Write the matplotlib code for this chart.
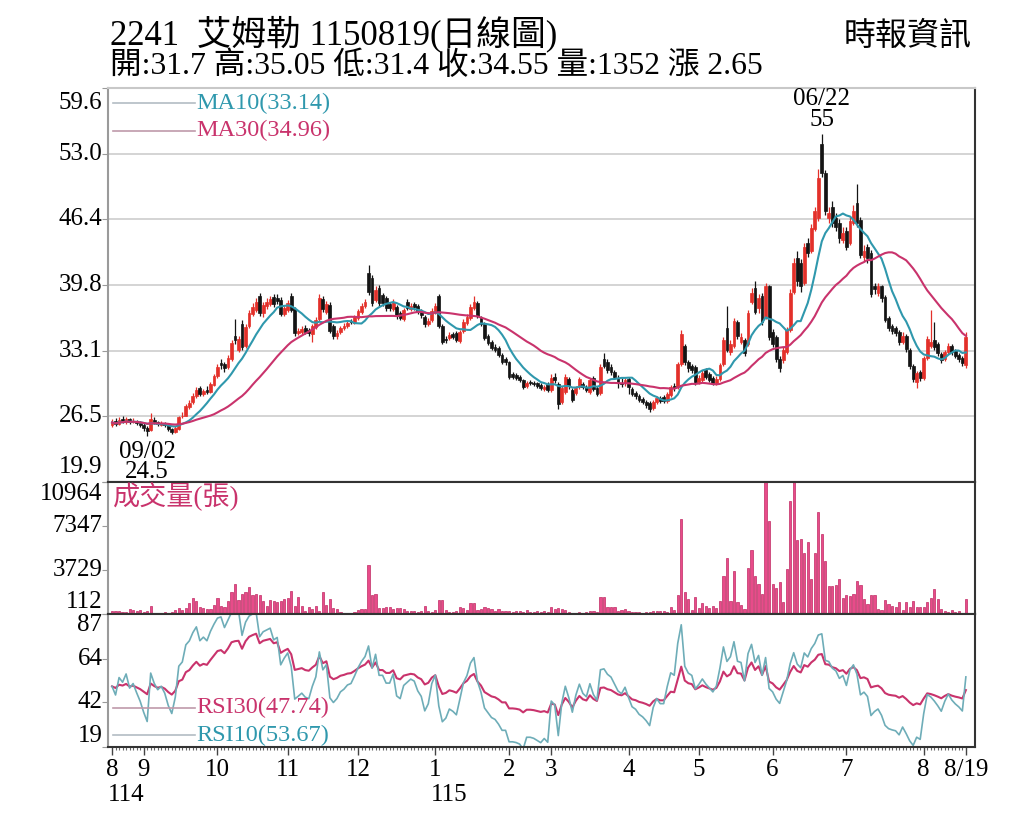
import numpy as np
import pandas as pd
import matplotlib
matplotlib.use("Agg")
import matplotlib.pyplot as plt

# daily K line of 2241, one row of numbers per month (2025/08 .. 2026/08)
opens = [
    25.6, 26.0, 25.7, 26.2, 25.9, 26.2, 25.9, 26.0, 25.8,
    25.6, 25.3, 25.1, 26.1, 25.9, 25.6, 25.8, 25.6, 25.2, 24.9, 25.2, 26.5, 26.6, 27.5, 28.0, 28.6, 29.4, 28.8, 29.2, 29.0, 29.7,
    30.6, 31.9, 31.8, 31.5, 32.3, 34.6, 33.2, 35.8, 33.6, 35.6, 36.8, 37.2, 38.6, 36.9, 37.6, 37.8, 38.5, 38.4, 38.2, 36.8,
    37.2, 38.6, 37.3, 34.9, 35.0, 35.4, 35.2, 34.8, 35.5, 36.3, 38.3, 37.0, 37.7, 35.6, 34.6, 35.0, 35.4, 35.6, 36.1, 35.9,
    36.4, 37.0, 37.6, 41.0, 40.5, 38.2, 39.4, 38.7, 38.4, 37.8, 37.3, 37.5, 36.9, 36.3, 38.0, 37.3, 37.8, 37.6, 37.1, 36.5, 35.8, 36.2,
    37.0, 38.6, 35.6, 34.3, 34.4, 34.8, 34.9, 34.1, 35.1, 35.9, 36.4, 37.4, 37.9, 36.4, 35.8, 34.6, 34.0, 33.5, 33.4, 32.7, 32.3,
    32.0, 30.8, 30.7, 30.5, 30.2, 29.6, 30.0, 29.9, 29.9, 29.7, 29.3, 29.8,
    29.2, 30.5, 29.8, 28.0, 29.0, 30.3, 29.2, 28.9, 29.5, 29.8, 29.5, 29.0, 30.4, 29.4, 28.9, 32.3, 32.0, 31.5, 31.0, 30.4, 29.9, 29.9,
    30.3, 29.3, 28.9, 28.6, 28.3, 28.0, 27.9, 27.4, 28.0, 28.4, 28.5, 28.1, 28.7, 29.6, 29.5, 31.8, 33.6, 32.0, 31.6, 31.5,
    30.0, 30.2, 31.2, 30.8, 30.4, 29.9, 30.3, 31.8, 35.4, 33.0, 33.6, 36.0, 34.0, 34.2, 33.8, 38.0, 39.4, 37.4, 38.6, 36.5, 39.6,
    35.0, 34.5, 32.3, 32.2, 33.0, 35.2, 39.0, 42.5, 42.0, 40.0, 44.0, 43.2, 45.4, 46.5, 54.0, 51.0, 46.5, 47.6, 46.5, 46.0, 44.3,
    45.2, 44.0, 46.0, 48.0, 46.3, 42.6, 43.6, 43.0, 39.6, 38.9, 39.6, 38.5, 36.4, 35.6, 35.4, 35.0, 34.0, 34.6, 33.2, 31.6, 30.0, 31.0,
    30.4, 32.4, 33.6, 34.2, 33.8, 32.8, 32.3, 33.0, 33.6, 33.1, 32.7, 32.4, 31.7,
]
highs = [
    26.2, 26.3, 26.4, 26.5, 26.4, 26.3, 26.3, 26.1, 26.0,
    25.8, 25.5, 26.9, 26.4, 26.0, 26.0, 25.9, 25.7, 25.3, 25.5, 26.6, 27.0, 27.8, 28.2, 28.9, 29.5, 29.6, 29.3, 29.6, 30.0, 30.8,
    31.8, 32.3, 32.0, 32.7, 34.2, 36.3, 34.6, 36.2, 35.8, 37.2, 37.9, 38.4, 38.9, 38.0, 38.4, 38.6, 38.8, 38.8, 38.5, 37.6,
    38.2, 38.9, 37.5, 35.4, 35.6, 35.7, 35.4, 35.8, 36.5, 38.8, 38.6, 38.1, 38.0, 35.8, 35.2, 35.6, 35.9, 36.1, 36.3, 36.7,
    37.3, 37.9, 38.3, 41.8, 40.8, 39.6, 39.7, 38.9, 38.6, 38.0, 38.3, 37.7, 37.1, 37.4, 38.3, 37.9, 38.0, 37.8, 37.3, 36.7, 36.4, 37.4,
    37.9, 38.8, 35.8, 34.6, 35.0, 35.0, 35.1, 35.2, 36.3, 36.8, 37.8, 38.6, 38.1, 36.6, 36.0, 34.8, 34.2, 33.8, 33.6, 32.9, 32.5,
    32.1, 31.0, 30.9, 30.7, 30.3, 30.1, 30.2, 30.1, 30.0, 29.9, 29.7, 30.0,
    30.8, 30.9, 30.0, 29.6, 30.8, 30.5, 29.4, 29.6, 30.5, 30.0, 29.7, 30.4, 30.6, 29.6, 31.8, 32.9, 32.3, 31.8, 31.2, 30.7, 30.4, 30.4,
    30.5, 29.5, 29.1, 28.8, 28.5, 28.2, 28.1, 28.2, 28.6, 28.6, 28.7, 29.0, 29.7, 29.9, 32.0, 35.2, 33.8, 32.2, 31.8, 31.7,
    30.7, 31.2, 31.4, 31.0, 30.6, 30.6, 31.9, 34.5, 37.6, 34.2, 36.4, 36.2, 34.9, 34.4, 37.2, 39.4, 40.2, 38.8, 38.9, 40.0, 39.8,
    35.3, 34.7, 32.6, 33.5, 35.5, 39.3, 42.5, 43.2, 42.4, 44.0, 44.5, 45.9, 47.6, 51.4, 55.0, 51.3, 47.6, 48.2, 47.0, 46.4, 45.6,
    45.6, 46.6, 47.8, 49.9, 46.6, 43.8, 43.9, 43.3, 40.0, 40.0, 39.8, 38.7, 36.6, 35.8, 35.6, 35.2, 35.0, 34.8, 33.4, 31.8, 31.1, 31.2,
    32.6, 34.6, 37.2, 36.0, 34.0, 33.0, 33.2, 33.9, 33.8, 33.3, 32.9, 32.6, 35.05,
]
lows = [
    25.4, 25.5, 25.6, 25.8, 25.7, 25.7, 25.8, 25.6, 25.4,
    25.0, 24.5, 25.0, 25.7, 25.5, 25.5, 25.4, 25.0, 24.7, 24.8, 25.1, 26.3, 26.5, 27.3, 27.8, 28.4, 28.6, 28.6, 28.8, 28.9, 29.6,
    30.4, 31.3, 31.0, 31.3, 32.1, 33.8, 33.0, 33.2, 33.4, 35.4, 36.6, 37.0, 36.6, 36.5, 37.3, 37.6, 37.5, 37.8, 36.6, 36.6,
    37.0, 37.0, 34.6, 34.7, 34.8, 34.8, 34.6, 34.0, 35.3, 36.1, 37.0, 36.8, 34.9, 34.3, 34.3, 34.8, 35.2, 35.4, 35.8, 35.8,
    36.2, 36.8, 37.4, 38.7, 37.6, 38.0, 37.6, 37.6, 37.1, 37.1, 37.1, 36.3, 36.2, 36.1, 37.2, 37.1, 37.2, 36.8, 36.4, 35.5, 35.6, 36.0,
    36.8, 35.4, 33.8, 33.9, 34.2, 34.3, 34.0, 33.9, 34.9, 35.7, 36.2, 37.2, 36.4, 35.6, 34.2, 33.7, 33.2, 33.0, 32.5, 31.8, 31.7,
    30.3, 30.3, 30.2, 30.0, 29.3, 29.4, 29.7, 29.6, 29.4, 29.2, 29.1, 29.0,
    29.0, 29.9, 27.3, 27.8, 28.8, 29.3, 28.0, 28.7, 29.3, 29.3, 29.0, 28.8, 29.1, 28.6, 28.7, 31.4, 30.9, 30.7, 30.3, 29.4, 29.5, 29.6,
    28.8, 28.6, 28.3, 28.0, 27.8, 27.4, 27.0, 27.2, 27.8, 27.9, 27.9, 27.9, 28.5, 29.1, 29.3, 31.6, 31.7, 31.0, 30.9, 29.7,
    29.8, 30.0, 30.3, 30.0, 29.7, 29.7, 30.1, 31.6, 33.0, 32.7, 33.4, 34.3, 33.8, 32.6, 33.6, 37.8, 36.8, 36.9, 35.7, 36.3, 34.2,
    33.5, 32.0, 31.0, 31.9, 32.8, 35.0, 38.8, 39.6, 39.0, 39.8, 42.6, 43.0, 45.2, 46.2, 50.6, 46.8, 46.0, 45.6, 45.2, 44.0, 44.0,
    43.3, 43.8, 45.8, 45.6, 42.5, 42.2, 42.0, 38.5, 38.8, 38.6, 38.0, 36.0, 35.1, 34.8, 34.6, 33.7, 33.8, 33.0, 31.3, 30.0, 29.4, 30.1,
    30.2, 32.2, 33.4, 33.2, 32.6, 31.9, 32.1, 32.8, 32.7, 32.4, 32.0, 31.6, 31.4,
]
closes = [
    25.9, 25.7, 26.1, 26.0, 26.2, 25.9, 26.0, 25.8, 25.6,
    25.3, 25.0, 26.2, 25.9, 25.7, 25.8, 25.6, 25.2, 24.9, 25.3, 26.4, 26.6, 27.6, 27.9, 28.6, 29.2, 28.8, 29.1, 29.0, 29.8, 30.6,
    31.5, 31.7, 31.4, 32.4, 33.9, 34.2, 34.3, 33.5, 35.5, 36.9, 37.5, 38.0, 36.9, 37.7, 38.0, 38.3, 37.8, 38.1, 36.8, 37.4,
    37.9, 37.2, 34.9, 35.1, 35.3, 35.0, 34.9, 35.6, 36.2, 38.4, 37.3, 37.8, 35.1, 34.6, 34.9, 35.4, 35.6, 35.9, 36.0, 36.5,
    37.1, 37.6, 38.0, 39.0, 37.9, 39.2, 37.9, 37.9, 37.4, 37.4, 38.0, 36.6, 36.4, 37.2, 37.4, 37.6, 37.5, 37.0, 36.7, 35.8, 36.1, 37.1,
    37.6, 35.6, 34.0, 34.2, 34.7, 34.5, 34.2, 35.0, 36.0, 36.5, 37.5, 38.0, 36.6, 35.8, 34.4, 33.9, 33.4, 33.2, 32.7, 32.0, 32.0,
    30.5, 30.5, 30.4, 30.2, 29.5, 29.9, 29.9, 29.8, 29.6, 29.4, 29.5, 29.2,
    30.4, 30.2, 27.8, 29.4, 30.5, 29.6, 28.2, 29.4, 30.3, 29.5, 29.2, 30.2, 29.3, 28.8, 31.5, 31.6, 31.2, 31.0, 30.5, 30.0, 29.8, 30.2,
    29.5, 28.8, 28.6, 28.2, 28.0, 27.7, 27.3, 28.0, 28.4, 28.1, 28.1, 28.8, 29.5, 29.4, 31.8, 34.8, 32.0, 31.4, 31.2, 30.0,
    30.4, 30.9, 30.5, 30.2, 29.9, 30.3, 31.7, 34.2, 33.2, 33.8, 36.1, 34.6, 34.5, 32.9, 36.9, 38.9, 37.0, 38.4, 36.0, 39.6, 34.5,
    33.8, 32.3, 31.4, 33.2, 35.2, 38.9, 42.0, 40.2, 39.6, 43.6, 43.0, 45.5, 47.2, 50.5, 51.0, 47.2, 47.0, 46.0, 45.6, 44.5, 45.0,
    43.6, 46.2, 47.2, 46.0, 42.8, 43.2, 42.5, 38.8, 39.3, 39.6, 38.4, 36.2, 35.4, 35.1, 34.9, 34.0, 34.6, 33.3, 31.6, 30.3, 30.9, 30.4,
    32.4, 34.3, 34.0, 33.5, 32.9, 32.2, 33.0, 33.6, 33.0, 32.6, 32.3, 31.9, 34.55,
]
volumes = [
    330, 330, 330, 280, 250, 530, 450, 330, 450,
    300, 380, 800, 180, 150, 200, 250, 230, 280, 420, 600, 450, 620, 1000, 1450, 1200, 650, 600, 560, 520, 880,
    1450, 810, 720, 1220, 1920, 2610, 1280, 1780, 1920, 2330, 1640, 1720, 1640, 1220, 810, 1280, 1170, 1080, 1220, 1360,
    1450, 2000, 810, 1500, 810, 390, 670, 530, 810, 390, 1920, 890, 1360, 610, 530, 250, 200, 220, 180, 250,
    450, 530, 530, 4140, 1640, 1720, 610, 610, 670, 720, 530, 610, 610, 530, 390, 330, 330, 250, 330, 810, 330, 250,
    450, 1280, 1280, 450, 250, 250, 330, 720, 610, 450, 1000, 1000, 450, 530, 670, 610, 530, 390, 530, 330, 330,
    390, 250, 390, 390, 250, 450, 250, 250, 330, 250, 330, 250,
    670, 530, 610, 530, 450, 250, 200, 180, 250, 200, 250, 390, 330, 250, 1500, 1500, 670, 720, 720, 330, 450, 530,
    330, 250, 250, 250, 200, 250, 250, 330, 330, 330, 330, 250, 670, 450, 1640, 7900, 1920, 1360, 450, 1500,
    610, 1000, 810, 610, 810, 610, 1220, 3230, 4700, 1220, 3670, 1080, 890, 530, 3860, 5400, 3230, 2610, 1720, 10964, 7760,
    2610, 2280, 2750, 1080, 3780, 9420, 10950, 6230, 6280, 5120, 6000, 3030, 5120, 8500, 6730, 4500, 2390, 2390, 2480, 3030, 1450,
    1640, 1560, 1780, 2840, 2480, 1360, 950, 1640, 1640, 530, 450, 1280, 950, 810, 720, 1080, 450, 1080, 720, 1220, 670, 670,
    670, 1080, 1450, 2200, 1360, 530, 330, 250, 450, 250, 330, 200, 1352,
]

month_days = [9, 21, 20, 20, 22, 21, 12, 22, 20, 21, 21, 22, 13]
month_labels = ["8", "9", "10", "11", "12", "1", "2", "3", "4", "5", "6", "7", "8"]
last_label = "8/19"
year_marks = {0: "114", 5: "115"}   # month slot -> ROC year

price_ticks = [19.9, 26.5, 33.1, 39.8, 46.4, 53.0, 59.6]
vol_ticks = [112, 3729, 7347, 10964]
rsi_ticks = [19, 42, 64, 87]

title = "2241  艾姆勒 1150819(日線圖)"
subtitle = "開:31.7 高:35.05 低:31.4 收:34.55 量:1352 漲 2.65"
source = "時報資訊"
high_tag, low_tag = "06/22", "09/02"
ma_text = ["MA10(33.14)", "MA30(34.96)"]
rsi_text = ["RSI30(47.74)", "RSI10(53.67)"]
vol_text = "成交量(張)"

FAM = ["Liberation Serif", "Noto Sans CJK TC", "DejaVu Sans"]
RED, BLACK = "#e3302a", "#141414"
TEAL, CRIMSON = "#2f98ad", "#c9336c"

o = np.array(opens); h = np.array(highs); l = np.array(lows); c = np.array(closes)
v = np.array(volumes)
assert len(o) == len(h) == len(l) == len(c) == len(v) == sum(month_days)
n = len(c)
x = np.arange(n)

cs = pd.Series(c)
ma10 = cs.rolling(10, min_periods=1).mean()
ma30 = cs.rolling(30, min_periods=1).mean()


def rsi(prices, span):
    # Wilder smoothing, averages seeded neutral from the first moves
    d = np.diff(prices)
    up = dn = np.mean(np.abs(d[:span])) / 2
    out = [50.0]
    for step in d:
        up = (up * (span - 1) + max(step, 0)) / span
        dn = (dn * (span - 1) + max(-step, 0)) / span
        out.append(100 * up / (up + dn))
    return np.array(out)


rsi10 = rsi(c, 10)
rsi30 = rsi(c, 30)

plt.rcParams["font.family"] = FAM
fig = plt.figure(figsize=(10.24, 8.19), dpi=100)
FH = 819.0


def box(top, bottom):
    return [108 / 1024, (FH - bottom) / FH, 867 / 1024, (bottom - top) / FH]


ax_p = fig.add_axes(box(88, 482))
ax_v = fig.add_axes(box(482, 614), sharex=ax_p)
ax_r = fig.add_axes(box(614, 747), sharex=ax_p)

for ax in (ax_p, ax_v, ax_r):
    ax.spines["left"].set_color("#9a9a9a")
    ax.spines["left"].set_linewidth(1.5)
    for side in ("right", "bottom", "top"):
        ax.spines[side].set_color("#333333")
        ax.spines[side].set_linewidth(1.5)
    ax.tick_params(axis="y", length=4, color="#9a9a9a", labelleft=False)
ax_p.spines["top"].set_color("#c8c8c8")


def side_labels(ax, ticks, fmt, shift_px):
    ax.set_yticks(ticks)
    for k, t in enumerate(ticks):
        dy = 0
        if k == 0:
            dy = shift_px
        elif k == len(ticks) - 1:
            dy = -shift_px
        ax.annotate(fmt(t), xy=(0, t), xycoords=("axes fraction", "data"),
                    xytext=(-4, dy * 0.72), textcoords="offset points",
                    ha="right", va="center", fontsize=18, family=FAM)


# price panel
col = np.where(c >= o, RED, BLACK)
ax_p.vlines(x, l, h, colors=col, lw=0.9, zorder=3)
ax_p.bar(x, np.abs(c - o), bottom=np.minimum(o, c), width=0.8, color=col,
         edgecolor=col, linewidth=0.5, zorder=3)
ax_p.plot(x, ma10, color=TEAL, lw=1.5, zorder=4)
ax_p.plot(x, ma30, color=CRIMSON, lw=1.5, zorder=4)
ax_p.set_ylim(price_ticks[0], price_ticks[-1])
side_labels(ax_p, price_ticks, lambda t: f"{t:.1f}", 15)
ax_p.grid(axis="y", color="#cdcdcd", lw=1.2, zorder=0)
ax_p.tick_params(axis="x", bottom=False, labelbottom=False)

for k, (txt, colr) in enumerate(zip(ma_text, [TEAL, CRIMSON])):
    yy = 0.962 - 0.071 * k
    ax_p.plot([0.006, 0.1], [yy, yy], transform=ax_p.transAxes,
              color="#b3bcc4" if k == 0 else "#bf9aaa", lw=1.2)
    ax_p.text(0.102, yy, txt, transform=ax_p.transAxes, color=colr,
              fontsize=17.5, va="center", ha="left")

ih = int(np.argmax(h))
ax_p.annotate(f"{high_tag}\n{h[ih]:g}", xy=(ih, h[ih]), xytext=(0, 2),
              textcoords="offset points", ha="center", va="bottom",
              fontsize=18, linespacing=0.95)
il = int(np.argmin(l))
ax_p.annotate(f"{low_tag}\n{l[il]:g}", xy=(il, l[il]), xytext=(0, -3),
              textcoords="offset points", ha="center", va="top",
              fontsize=18, linespacing=0.9, zorder=1)

# volume panel
ax_v.bar(x, v, width=0.62, color="#e84b8a", edgecolor="#c02a63", linewidth=0.5)
ax_v.set_ylim(vol_ticks[0], vol_ticks[-1])
side_labels(ax_v, vol_ticks, lambda t: f"{t}", 12)
ax_v.tick_params(axis="x", bottom=False, labelbottom=False)
ax_v.text(0.006, 0.885, vol_text, transform=ax_v.transAxes, color=CRIMSON,
          fontsize=19.5, va="center", ha="left")

# rsi panel
ax_r.plot(x, rsi30, color=CRIMSON, lw=1.5)
ax_r.plot(x, rsi10, color="#6eadb8", lw=1.2)
ax_r.set_ylim(rsi_ticks[0], rsi_ticks[-1])
side_labels(ax_r, rsi_ticks, lambda t: f"{t}", 11)
for k, (txt, colr) in enumerate(zip(rsi_text, [CRIMSON, TEAL])):
    yy = 0.295 - 0.205 * k
    ax_r.plot([0.006, 0.1], [yy, yy], transform=ax_r.transAxes,
              color="#bf9aaa" if k == 0 else "#b3bcc4", lw=1.2)
    ax_r.text(0.102, yy, txt, transform=ax_r.transAxes, color=colr,
              fontsize=17.5, va="center", ha="left")

starts = list(np.cumsum([0] + month_days[:-1]))
ax_r.set_xticks(starts + [n - 1])
ax_r.set_xticklabels(month_labels + [last_label], fontsize=18)
ax_r.set_xticks(x, minor=True)
ax_r.tick_params(axis="x", which="major", length=6, width=1, color="#444444", pad=3)
ax_r.tick_params(axis="x", which="minor", length=2.5, width=0.8, color="#666666")
for slot, yr in year_marks.items():
    ax_r.annotate(yr, xy=(starts[slot], 0), xycoords=("data", "axes fraction"),
                  xytext=(-4 * 0.72, -48 * 0.72), textcoords="offset points",
                  ha="left", va="center", fontsize=18)

ax_p.set_xlim(-1.15, n + 1.6)

fig.text(110 / 1024, 1 - 34 / FH, title, fontsize=25, ha="left", va="center")
fig.text(110 / 1024, 1 - 66 / FH, subtitle, fontsize=22.8, ha="left", va="center")
fig.text(972 / 1024, 1 - 37 / FH, source, fontsize=23, ha="right", va="center")

fig.savefig("out.png", dpi=100, facecolor="white")
